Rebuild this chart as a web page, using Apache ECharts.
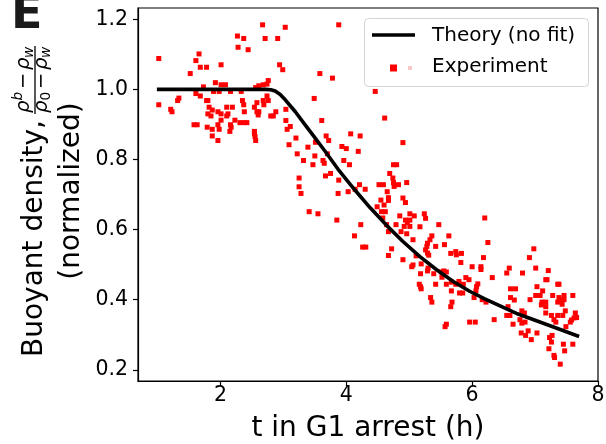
<!DOCTYPE html>
<html>
<head>
<meta charset="utf-8">
<script src="https://cdn.jsdelivr.net/npm/echarts@6/dist/echarts.min.js"></script>
<style>html,body{margin:0;padding:0;background:#fff}#c{width:606px;height:444px}</style>
</head>
<body>
<div id="c"></div>
<script>
// ---- data ----
const xTicks = [2, 4, 6, 8];
const yTicks = [0.2, 0.4, 0.6, 0.8, 1.0, 1.2];

const theoryT = [0.99, 2.5, 2.72, 2.80, 2.87, 2.95, 3.03, 3.19, 3.34, 3.50, 3.66, 3.87, 4.14, 4.38, 4.64, 4.90, 5.17, 5.43, 5.70, 5.96, 6.20, 6.73, 7.26, 7.70];
const theoryV = [1.0, 1.0, 1.0, 0.999, 0.995, 0.985, 0.970, 0.936, 0.900, 0.862, 0.824, 0.772, 0.712, 0.662, 0.612, 0.566, 0.523, 0.486, 0.452, 0.424, 0.402, 0.359, 0.324, 0.295];

const expT = [2.27,2.37,2.28,2.44,1.02,1.66,1.61,1.68,1.78,2.01,1.52,1.92,2.01,2.08,1.73,2.56,2.60,1.61,1.68,1.89,
1.98,2.16,2.33,1.34,1.32,1.02,1.78,1.80,2.35,2.37,2.58,1.21,1.23,1.82,1.87,2.10,2.19,1.96,2.01,2.12,
2.10,1.80,1.85,2.38,2.54,2.58,2.60,2.01,2.23,2.31,2.37,2.42,1.58,1.63,1.79,1.96,2.16,2.17,1.87,1.98,
2.15,2.54,2.54,2.55,1.87,1.96,2.56,2.67,3.03,3.88,2.71,2.91,2.94,2.99,3.58,3.78,3.49,4.46,4.61,3.61,
4.07,4.22,2.76,2.74,2.68,2.61,2.74,2.76,2.68,2.69,2.61,2.88,2.84,2.80,3.04,3.04,3.11,3.06,3.20,3.09,
3.68,3.72,3.39,3.93,4.00,3.51,4.19,4.90,3.22,3.50,3.70,3.32,3.47,3.63,3.65,3.96,4.05,4.75,4.80,4.69,
3.67,3.75,3.88,3.25,4.75,4.76,4.83,4.96,4.52,4.59,4.21,3.25,3.28,4.03,4.14,4.30,4.65,3.87,4.90,4.94,
4.55,4.67,4.67,4.60,4.49,4.56,4.62,3.41,3.55,5.01,5.24,4.85,5.08,5.26,4.58,4.94,5.01,6.20,3.85,4.23,
4.64,4.79,4.92,5.01,5.17,5.47,4.67,4.87,4.96,4.13,5.06,5.36,5.33,5.63,5.29,5.28,5.26,5.29,5.42,5.56,
6.25,4.26,4.31,4.72,5.74,5.75,5.83,5.66,4.67,5.31,6.98,6.91,6.18,4.90,5.82,5.06,5.04,6.00,6.14,6.59,
7.01,7.21,4.74,4.97,5.11,5.19,6.14,5.29,5.39,5.30,5.51,5.55,5.59,5.18,5.52,5.90,5.95,5.67,5.74,5.86,
6.09,6.07,5.16,5.18,5.19,5.42,5.59,5.67,5.80,5.85,6.06,6.03,6.16,5.34,5.36,5.68,5.66,5.96,6.05,5.59,
5.57,5.79,6.32,6.55,6.80,7.17,7.19,7.36,7.38,7.03,6.61,6.69,7.12,7.01,7.08,7.28,7.46,7.60,6.61,6.67,
6.92,7.38,7.42,7.46,7.36,7.43,7.11,7.17,7.10,7.17,6.22,6.57,7.48,7.17,6.79,6.83,6.55,6.60,7.26,7.36,
7.44,7.64,7.66,7.62,7.58,7.56,6.35,6.76,6.84,6.79,6.65,7.30,7.33,7.49,6.78,6.89,6.85,7.03,6.94,7.23,
7.27,7.26,7.45,7.60,7.22,7.47,7.30,7.31,7.40];
const expV = [1.152,1.145,1.120,1.113,1.088,1.101,1.082,1.063,1.063,1.070,1.045,1.019,1.013,1.013,1.007,1.005,1.005,0.988,0.981,0.994,
0.994,0.994,0.994,0.975,0.968,0.956,0.968,0.968,0.968,0.956,0.962,0.943,0.936,0.949,0.941,0.949,0.949,0.936,0.930,0.930,
0.924,0.930,0.924,0.936,0.949,0.936,0.927,0.912,0.912,0.905,0.905,0.905,0.899,0.899,0.892,0.899,0.899,0.892,0.886,0.886,
0.880,0.880,0.873,0.865,0.867,0.854,0.854,1.184,1.177,1.184,1.145,1.145,1.070,1.056,1.045,1.032,0.974,0.994,0.918,0.911,
0.873,0.867,1.025,1.015,1.013,1.010,0.981,0.968,0.968,0.956,0.936,0.936,0.924,0.924,0.943,0.911,0.894,0.886,0.861,0.842,
0.867,0.854,0.835,0.837,0.831,0.849,0.823,0.848,0.816,0.810,0.816,0.797,0.785,0.797,0.789,0.797,0.785,0.785,0.785,0.760,
0.753,0.760,0.741,0.747,0.734,0.723,0.728,0.734,0.728,0.728,0.728,0.722,0.703,0.708,0.715,0.715,0.708,0.703,0.690,0.677,
0.684,0.691,0.683,0.670,0.665,0.651,0.651,0.651,0.645,0.645,0.645,0.639,0.639,0.632,0.633,0.627,0.627,0.633,0.627,0.614,
0.614,0.614,0.609,0.609,0.608,0.614,0.594,0.594,0.588,0.582,0.571,0.582,0.571,0.582,0.561,0.552,0.542,0.533,0.552,0.557,
0.563,0.550,0.550,0.545,0.537,0.528,0.532,0.532,0.526,0.527,0.545,0.520,0.520,0.514,0.506,0.499,0.494,0.494,0.494,0.490,
0.490,0.483,0.747,0.620,0.525,0.502,0.486,0.482,0.474,0.490,0.479,0.482,0.479,0.474,0.464,0.463,0.457,0.450,0.444,0.444,
0.445,0.437,0.444,0.437,0.431,0.444,0.444,0.425,0.419,0.419,0.425,0.406,0.400,0.406,0.393,0.393,0.380,0.336,0.336,0.330,
0.323,0.452,0.463,0.476,0.476,0.457,0.457,0.444,0.444,0.437,0.431,0.431,0.425,0.412,0.412,0.412,0.412,0.412,0.406,0.399,
0.400,0.406,0.400,0.400,0.393,0.387,0.393,0.393,0.385,0.380,0.393,0.380,0.368,0.362,0.368,0.362,0.355,0.355,0.355,0.355,
0.355,0.362,0.349,0.348,0.342,0.336,0.343,0.343,0.336,0.333,0.330,0.343,0.336,0.323,0.305,0.311,0.298,0.305,0.286,0.292,
0.298,0.279,0.273,0.273,0.260,0.254,0.241,0.235,0.216];

const theoryData = theoryT.map((t, i) => [t, theoryV[i]]);
const expData = expT.map((t, i) => [t, expV[i]]);

const FONT = 'DejaVu Sans';
const chart = echarts.init(document.getElementById('c'), null, {renderer: 'canvas'});

function txt(text, x, y, size, opts) {
  opts = opts || {};
  return {
    type: 'text', z: 100,
    style: Object.assign({
      text: text, x: x, y: y,
      font: (opts.style || '') + ' ' + (opts.weight || 'normal') + ' ' + size + 'px "' + FONT + '"',
      fill: opts.fill || '#000',
      align: opts.align || 'left', textAlign: opts.align || 'left',
      verticalAlign: 'middle', textVerticalAlign: 'middle'
    })
  };
}

const FR = 19.6, SC = 13.7;
// y-axis label (rotated group); local x runs upward from screen y=357, local y = screen x
const yLabel = {
  type: 'group', x: 0, y: 357, rotation: Math.PI / 2,
  children: [
    txt('Buoyant density,', 0, 34.5, 28),
    // numerator
    txt('\u03C1', 244, 24, FR, {style: 'italic'}),
    txt('b', 256.5, 18, SC, {style: 'italic'}),
    txt('\u2212', 268, 24, FR),
    txt('\u03C1', 287, 24, FR, {style: 'italic'}),
    txt('w', 299, 29, SC, {style: 'italic'}),
    // bar
    {type: 'line', z: 100, shape: {x1: 243, y1: 35, x2: 311, y2: 35}, style: {stroke: '#000', lineWidth: 1.3}},
    // denominator
    txt('\u03C1', 244, 41.5, FR, {style: 'italic'}),
    txt('0', 256.5, 46, SC),
    txt('\u2212', 268, 41.5, FR),
    txt('\u03C1', 287, 41.5, FR, {style: 'italic'}),
    txt('w', 299, 46, SC, {style: 'italic'}),
    txt('(normalized)', 166, 72, 28, {align: 'center'})
  ]
};

const option = {
  animation: false,
  backgroundColor: '#fff',
  grid: {left: 138, right: 8, top: 8, bottom: 63, containLabel: false, outerBoundsMode: 'none',
    show: true, borderColor: '#000', borderWidth: 1.2, backgroundColor: 'transparent'},
  xAxis: {
    type: 'value', min: 0.69, max: 8,
    name: 't in G1 arrest (h)', nameLocation: 'middle', nameGap: 34,
    nameTextStyle: {fontSize: 28, color: '#000', fontFamily: FONT},
    axisLine: {show: true, lineStyle: {color: '#000', width: 1.2}},
    axisTick: {show: true, inside: false, length: 5, customValues: xTicks, lineStyle: {color: '#000', width: 1.2}},
    axisLabel: {show: true, customValues: xTicks, margin: 4, fontSize: 20.5, color: '#000', fontFamily: FONT},
    splitLine: {show: false}
  },
  yAxis: {
    type: 'value', min: 0.168, max: 1.232,
    axisLine: {show: true, lineStyle: {color: '#000', width: 1.2}},
    axisTick: {show: true, inside: false, length: 5, customValues: yTicks, lineStyle: {color: '#000', width: 1.2}},
    axisLabel: {show: true, customValues: yTicks, margin: 10, fontSize: 20.5, color: '#000', fontFamily: FONT,
      formatter: v => v.toFixed(1)},
    splitLine: {show: false}
  },
  series: [
    {
      name: 'Experiment', type: 'scatter', data: expData, symbol: 'rect', symbolSize: 5,
      itemStyle: {color: '#ff0000', opacity: 1}, z: 2, silent: true
    },
    {
      name: 'Theory (no fit)', type: 'line', data: theoryData, showSymbol: false, symbol: 'none',
      smooth: false,
      lineStyle: {color: '#000', width: 3.6, join: 'round'}, z: 3, silent: true
    }
  ],
  graphic: [
    yLabel,
    txt('E', 11, 16, 46, {weight: 'bold', fill: '#1a1a1a'}),
    {type: 'rect', z: 90, shape: {x: 364.5, y: 18.5, width: 224, height: 68, r: 4},
      style: {fill: 'rgba(255,255,255,0.8)', stroke: '#d4d4d4', lineWidth: 1}},
    {type: 'line', z: 100, shape: {x1: 372, y1: 35, x2: 415, y2: 35}, style: {stroke: '#000', lineWidth: 3.6}},
    txt('Theory (no fit)', 432, 35.5, 20),
    {type: 'rect', z: 100, shape: {x: 390, y: 64.5, width: 7, height: 7}, style: {fill: '#ff0000'}},
    {type: 'rect', z: 100, shape: {x: 408, y: 66, width: 4, height: 4}, style: {fill: '#f8c8c8'}},
    txt('Experiment', 432, 66.5, 20)
  ]
};
chart.setOption(option);
</script>
</body>
</html>
